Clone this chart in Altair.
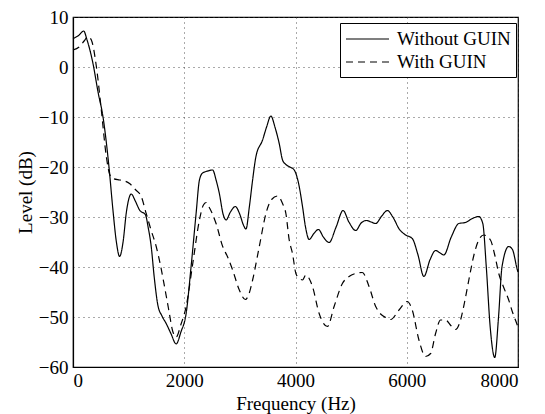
import altair as alt
import pandas as pd

# Solid: Without GUIN
freq_without = [0, 100, 192, 250, 359, 450, 538, 646, 718, 780, 838, 900, 960, 1047, 1120, 1196,
                1304, 1350, 1406, 1460, 1525, 1600, 1675, 1760, 1855, 1940, 2034, 2123, 2213, 2273,
                2330, 2393, 2511, 2572, 2631, 2700, 2751, 2830, 2918, 3000, 3060, 3110, 3170, 3229,
                3289, 3408, 3480, 3558, 3630, 3707, 3767, 3827, 3900, 3977, 4050, 4126, 4180, 4246,
                4330, 4413, 4500, 4604, 4730, 4856, 4960, 5083, 5180, 5274, 5360, 5442, 5550, 5651,
                5750, 5870, 5981, 6099, 6200, 6308, 6420, 6518, 6600, 6667, 6800, 6936, 7056, 7180,
                7295, 7367, 7430, 7500, 7582, 7650, 7713, 7833, 7900, 7989, 8000]
level_without = [5.7, 6.3, 7.2, 5.5, 0.7, -5, -9.9, -19.9, -28.6, -35, -37.9, -35, -29, -25.4, -26.8, -28.6,
                 -29.6, -32, -35.9, -42, -47.6, -49.8, -51.3, -53.3, -55.4, -53, -49.3, -39.9, -29.3, -22.6,
                 -21.2, -20.9, -20.6, -22.6, -25.3, -29.5, -30.6, -29, -27.9, -29.5, -31.5, -32.4, -28, -22.6,
                 -17.9, -14.6, -12, -9.8, -12, -15.3, -18.6, -19.5, -20, -20.6, -23, -27.9, -32, -34.5,
                 -33.3, -32.5, -34, -35.1, -32, -28.7, -31, -32.7, -31.2, -30.7, -31, -31.3, -29.8, -28.7,
                 -30, -32.5, -33.6, -34.3, -37.5, -41.9, -38.5, -36.7, -37.2, -37.6, -34, -31.3, -31.1, -30.3,
                 -29.9, -31.3, -40, -52, -58.1, -50, -39.9, -35.9, -36.5, -40.6, -41]

# Dashed: With GUIN
freq_with = [0, 120, 200, 269, 330, 420, 509, 599, 660, 718, 838, 930, 1017, 1120, 1227, 1316, 1400,
             1496, 1570, 1645, 1720, 1794, 1855, 1940, 2034, 2153, 2273, 2340, 2393, 2460, 2572, 2691,
             2780, 2870, 2990, 3098, 3160, 3229, 3349, 3469, 3570, 3677, 3767, 3827, 3887, 3946, 4007,
             4070, 4126, 4186, 4245, 4305, 4425, 4574, 4694, 4843, 4963, 5080, 5202, 5322, 5442, 5540,
             5621, 5711, 5861, 6010, 6099, 6219, 6339, 6429, 6518, 6608, 6697, 6800, 6877, 6967, 7040,
             7116, 7210, 7295, 7385, 7505, 7580, 7654, 7740, 7833, 7900, 7964, 8000]
level_with = [3.4, 4.1, 5.2, 6.1, 5.4, 0.1, -8.6, -17.9, -21.5, -22.3, -22.6, -22.8, -23.3, -24.5, -25.9, -29.3, -32.5,
              -35.9, -39.5, -43.9, -48.5, -52.9, -54, -51.5, -47.9, -39.3, -30.6, -27.7, -27.1, -28.3, -31.3, -35.9,
              -38, -40.6, -44.6, -46.5, -45.5, -42.6, -35.9, -29.3, -26.5, -25.8, -27.3, -29.3, -34.6, -37.3, -41.3,
              -42.3, -42.6, -41.6, -42.3, -43.9, -49.3, -51.9, -47.9, -43.3, -41.9, -41.3, -41.1, -43.9, -47.9, -49.5,
              -50.1, -50.5, -48.6, -46.9, -48.6, -54.6, -57.9, -57.3, -53.3, -50.6, -50.6, -51.8, -52.5, -50.6, -47,
              -42.6, -37.5, -34.6, -33.6, -34.6, -37.5, -41.3, -44, -46.6, -49, -50.9, -52]

series_names = ["Without GUIN", "With GUIN"]
x_ticks = [0, 2000, 4000, 6000, 8000]
y_ticks = [-60, -50, -40, -30, -20, -10, 0, 10]

df = pd.concat([
    pd.DataFrame({"f": freq_without, "L": level_without, "s": series_names[0], "o": range(len(freq_without))}),
    pd.DataFrame({"f": freq_with, "L": level_with, "s": series_names[1], "o": range(len(freq_with))}),
])

FONT = "Liberation Serif"
FS = 19

chart = alt.Chart(df).mark_line(
    interpolate="monotone", strokeWidth=1.2, color="black"
).encode(
    x=alt.X("f:Q", scale=alt.Scale(domain=[0, 8000], nice=False),
            axis=alt.Axis(values=x_ticks, title="Frequency (Hz)", format="d",
                          labelFont=FONT, labelFontSize=FS, titleFont=FONT, titleFontSize=FS,
                          titleY=36, titleBaseline="middle", labelPadding=4)),
    y=alt.Y("L:Q", scale=alt.Scale(domain=[-60, 10], nice=False),
            axis=alt.Axis(values=y_ticks, title="Level (dB)", format="d",
                          labelFont=FONT, labelFontSize=FS, titleFont=FONT, titleFontSize=FS,
                          titleX=-48, titleY=175, titleBaseline="middle", labelPadding=5)),
    order="o:Q",
    strokeDash=alt.StrokeDash("s:N",
        scale=alt.Scale(domain=series_names, range=[[1, 0], [7, 5]]),
        legend=alt.Legend(title=None, orient="none", legendX=267, legendY=6,
                          strokeColor="black", fillColor="white", padding=5,
                          symbolType="M-1,0H3.3", symbolSize=400, symbolStrokeWidth=1.2,
                          symbolStrokeColor="black", symbolFillColor="transparent",
                          labelFont=FONT, labelFontSize=FS,
                          labelColor="black", labelOffset=30, rowPadding=2, labelLimit=300)),
).properties(
    width=445, height=350,
    background="white",
    autosize=alt.AutoSizeParams(type="none"),
    padding={"left": 73, "top": 17, "right": 27, "bottom": 47},
).configure_view(
    stroke="black", strokeWidth=1.2
).configure_axis(
    labelFont=FONT, titleFont=FONT, labelFontSize=FS, titleFontSize=FS,
    labelColor="black", titleColor="black", titleFontWeight="normal",
    domainColor="black", domainWidth=1.2, ticks=False,
    grid=True, gridColor="#444", gridDash=[1, 4], gridWidth=1, gridOpacity=0.9,
)

chart.save("out.html", embed_options={"renderer": "svg", "actions": False})
